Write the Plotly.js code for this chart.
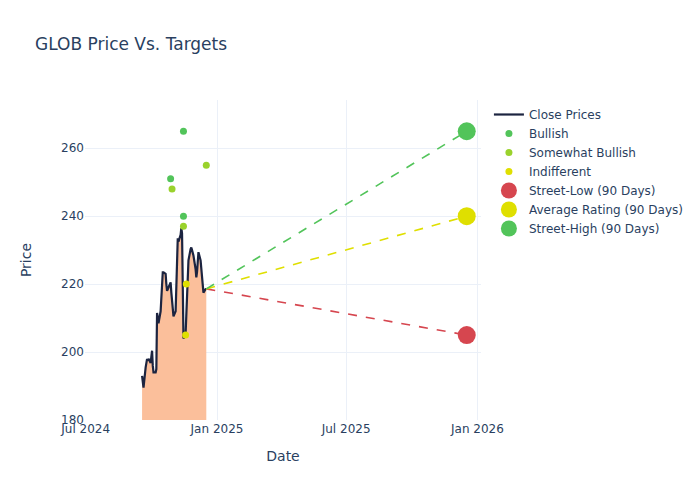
<!DOCTYPE html>
<html>
<head>
<meta charset="utf-8">
<script src="https://cdn.plot.ly/plotly-3.0.1.min.js"></script>
<style>html,body{margin:0;padding:0;background:#fff;}#chart{width:700px;height:500px;}</style>
</head>
<body>
<div id="chart"></div>
<script>
// Close prices (trading days)
const dates = [
  '2024-09-18','2024-09-19','2024-09-20','2024-09-23','2024-09-24','2024-09-25','2024-09-26','2024-09-27','2024-09-30',
  '2024-10-01','2024-10-02','2024-10-03','2024-10-04','2024-10-07','2024-10-08','2024-10-09','2024-10-10','2024-10-11',
  '2024-10-14','2024-10-15','2024-10-16','2024-10-17','2024-10-18','2024-10-21','2024-10-22','2024-10-23','2024-10-24',
  '2024-10-25','2024-10-28','2024-10-29','2024-10-30','2024-10-31','2024-11-01','2024-11-04','2024-11-05','2024-11-06',
  '2024-11-07','2024-11-08','2024-11-11','2024-11-12','2024-11-13','2024-11-14','2024-11-15','2024-11-18','2024-11-19',
  '2024-11-20','2024-11-21','2024-11-22','2024-11-25','2024-11-26','2024-11-27','2024-11-29','2024-12-02','2024-12-03',
  '2024-12-04','2024-12-05','2024-12-06','2024-12-09','2024-12-10','2024-12-11','2024-12-12','2024-12-13','2024-12-16',
  '2024-12-17'
];
const closes = [
  193.0,191.0,189.5,195.5,196.5,198.0,197.5,198.0,196.8,
  199.0,200.4,196.0,194.0,194.0,195.0,211.5,210.0,208.5,
  212.0,216.5,219.0,223.5,223.5,223.0,220.0,218.0,218.5,
  219.0,220.5,217.5,215.0,213.5,210.5,212.0,222.0,233.0,
  233.5,232.5,234.5,236.5,235.0,220.0,204.0,205.5,210.0,
  217.0,223.0,227.0,230.3,230.8,230.0,228.4,224.4,222.0,
  223.5,227.0,229.4,227.0,224.5,222.0,220.0,217.5,218.5,
  218.6
];

// Analyst ratings
const bullishDates = ['2024-11-15','2024-10-28','2024-11-15'];
const bullishPrices = [265, 251, 240];
const somewhatBullishDates = ['2024-10-30','2024-12-17','2024-11-15'];
const somewhatBullishPrices = [248, 255, 237];
const indifferentDates = ['2024-11-19','2024-11-18'];
const indifferentPrices = [220, 205];

// 90-day street targets
const targetDate = '2025-12-17';
const streetLow = 205;
const averageRating = 240;
const streetHigh = 265;

const lastDate = dates[dates.length - 1];
const lastClose = closes[closes.length - 1];

const GREEN = '#52c45a', YG = '#9ad22c', YEL = '#dfdf00', RED = '#d6464f';

const traces = [
  {x: dates, y: closes, type: 'scatter', mode: 'lines', fill: 'tozeroy',
   fillcolor: '#fbbf9b', line: {width: 0, color: '#fbbf9b'}, showlegend: false, hoverinfo: 'skip'},
  {x: dates, y: closes, type: 'scatter', mode: 'lines', name: 'Close Prices',
   line: {color: '#1c2440', width: 2.2}},
  {x: bullishDates, y: bullishPrices, type: 'scatter', mode: 'markers', name: 'Bullish',
   marker: {color: GREEN, size: 7}},
  {x: somewhatBullishDates, y: somewhatBullishPrices, type: 'scatter', mode: 'markers', name: 'Somewhat Bullish',
   marker: {color: YG, size: 7}},
  {x: indifferentDates, y: indifferentPrices, type: 'scatter', mode: 'markers', name: 'Indifferent',
   marker: {color: YEL, size: 7}},
  {x: [lastDate, targetDate], y: [lastClose, streetLow], type: 'scatter', mode: 'lines',
   line: {color: RED, dash: 'dash', width: 1.6}, showlegend: false, hoverinfo: 'skip'},
  {x: [lastDate, targetDate], y: [lastClose, averageRating], type: 'scatter', mode: 'lines',
   line: {color: YEL, dash: 'dash', width: 1.6}, showlegend: false, hoverinfo: 'skip'},
  {x: [lastDate, targetDate], y: [lastClose, streetHigh], type: 'scatter', mode: 'lines',
   line: {color: GREEN, dash: 'dash', width: 1.6}, showlegend: false, hoverinfo: 'skip'},
  {x: [targetDate], y: [streetLow], type: 'scatter', mode: 'markers', name: 'Street-Low (90 Days)',
   marker: {color: RED, size: 18}},
  {x: [targetDate], y: [averageRating], type: 'scatter', mode: 'markers', name: 'Average Rating (90 Days)',
   marker: {color: YEL, size: 18}},
  {x: [targetDate], y: [streetHigh], type: 'scatter', mode: 'markers', name: 'Street-High (90 Days)',
   marker: {color: GREEN, size: 18}}
];

const layout = {
  width: 700, height: 500,
  paper_bgcolor: '#ffffff', plot_bgcolor: '#ffffff',
  font: {family: '"DejaVu Sans", verdana, sans-serif', size: 12, color: '#2a3f5f'},
  title: {text: 'GLOB Price Vs. Targets', x: 0.05, font: {size: 17, color: '#2a3f5f'}},
  margin: {l: 85, r: 219, t: 100, b: 80},
  xaxis: {
    title: {text: 'Date', standoff: 16}, type: 'date',
    range: ['2024-06-30', '2026-01-06'],
    dtick: 'M6', tick0: '2024-07-01', tickformat: '%b %Y',
    gridcolor: '#EBF0F8', zeroline: false, showline: false, ticks: ''
  },
  yaxis: {
    title: {text: 'Price', standoff: 26},
    range: [180, 274.2], dtick: 20,
    gridcolor: '#EBF0F8', zeroline: false, showline: false, ticks: ''
  },
  legend: {x: 1.02, y: 1, font: {size: 12}},
  showlegend: true
};

Plotly.newPlot('chart', traces, layout, {displayModeBar: false, staticPlot: true});
</script>
</body>
</html>
